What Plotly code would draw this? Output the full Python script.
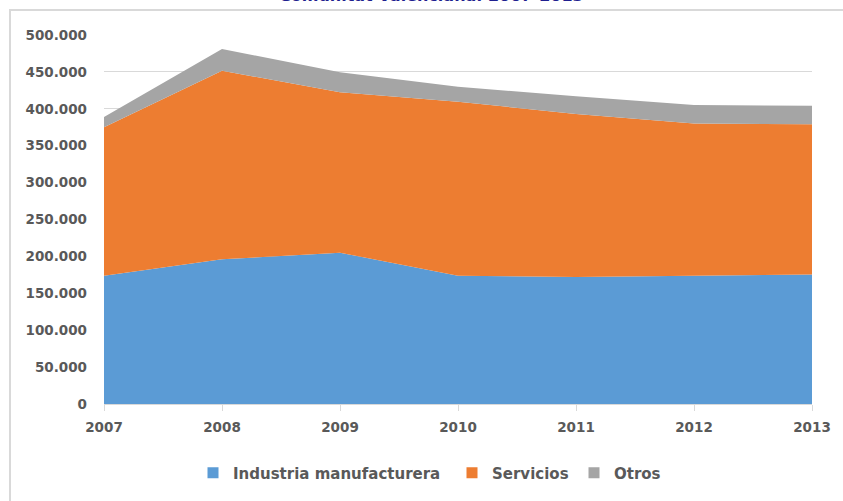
import plotly.graph_objects as go

years = [2007, 2008, 2009, 2010, 2011, 2012, 2013]
industria = [173800, 196000, 205000, 173700, 172000, 173500, 175500]
servicios = [201200, 255600, 217300, 235900, 221000, 206500, 203500]
otros = [14000, 29400, 27200, 20400, 24000, 25000, 25000]

series_names = ["Industria manufacturera", "Servicios", "Otros"]
series_values = [industria, servicios, otros]
series_colors = ["#5B9BD5", "#ED7D31", "#A5A5A5"]

font_family = "DejaVu Sans, Verdana, sans-serif"
L, R, T, B = 104, 31, 35, 97
W, H = 843, 501
pw, ph = W - L - R, H - T - B

def px_x(x):
    return (x - L) / pw

def px_y(y):
    return (H - B - y) / ph

fig = go.Figure()
for name, vals, col in zip(series_names, series_values, series_colors):
    fig.add_trace(go.Scatter(
        x=years, y=vals, name=name, mode="lines",
        stackgroup="one", line=dict(width=0, color=col),
        fillcolor=col, showlegend=False, hoverinfo="x+y+name",
    ))

# legend entries (one legend box per entry, placed like the reference)
legend_ids = ["legend", "legend2", "legend3"]
legend_text_x = [233, 492, 614]
for name, col, lid in zip(series_names, series_colors, legend_ids):
    fig.add_trace(go.Scatter(
        x=[None], y=[None], mode="markers", name=name, legend=lid,
        marker=dict(symbol="square", size=11, color=col),
        showlegend=True, hoverinfo="skip",
    ))

legend_common = dict(
    orientation="h", yanchor="middle", xanchor="left",
    font=dict(size=15, color="#595959", family=font_family, weight="bold"),
    bgcolor="rgba(0,0,0,0)", borderwidth=0,
)
legend_layout = {}
for lid, tx in zip(legend_ids, legend_text_x):
    legend_layout[lid] = dict(legend_common, x=px_x(tx - 40), y=px_y(473))

tick_font = dict(family=font_family, size=13.5, color="#595959", weight="bold")

fig.update_layout(
    width=W, height=H,
    margin=dict(l=L, r=R, t=T, b=B, autoexpand=False),
    paper_bgcolor="white", plot_bgcolor="white",
    separators=",.",
    font=dict(family=font_family, size=13.5, color="#595959"),
    xaxis=dict(
        range=[2007, 2013], tickmode="array", tickvals=years,
        ticktext=[str(y) for y in years], tickfont=tick_font,
        showgrid=False, showline=True, linecolor="#D9D9D9", linewidth=1,
        ticks="outside", ticklen=6, tickcolor="#D9D9D9",
        ticklabelstandoff=5,
        zeroline=False, fixedrange=True, automargin=False,
    ),
    yaxis=dict(
        range=[0, 500000], dtick=50000, tickformat=",d", tickfont=tick_font,
        showgrid=True, gridcolor="#D9D9D9", gridwidth=1,
        zeroline=False, showline=False, ticks="",
        ticklabelstandoff=16, fixedrange=True, automargin=False,
        layer="below traces",
    ),
    **legend_layout,
)

# title, mostly cut off at the top edge as in the reference
fig.add_annotation(
    text="<b>Comunitat Valenciana. 2007-2013</b>",
    xref="paper", yref="paper",
    x=px_x(431), xanchor="center",
    y=px_y(-4), yanchor="middle",
    showarrow=False,
    font=dict(size=16, color="#1F1F8F", family=font_family),
)

# outer chart frame
fig.add_shape(
    type="rect", xref="paper", yref="paper",
    x0=px_x(10), x1=px_x(W + 5),
    y0=px_y(H + 5), y1=px_y(10),
    line=dict(color="#D9D9D9", width=2), fillcolor="rgba(0,0,0,0)",
    layer="below",
)

fig.write_html(
    "out.html",
    config={"displayModeBar": False},
    post_script="document.body.style.margin='0px';",
)
